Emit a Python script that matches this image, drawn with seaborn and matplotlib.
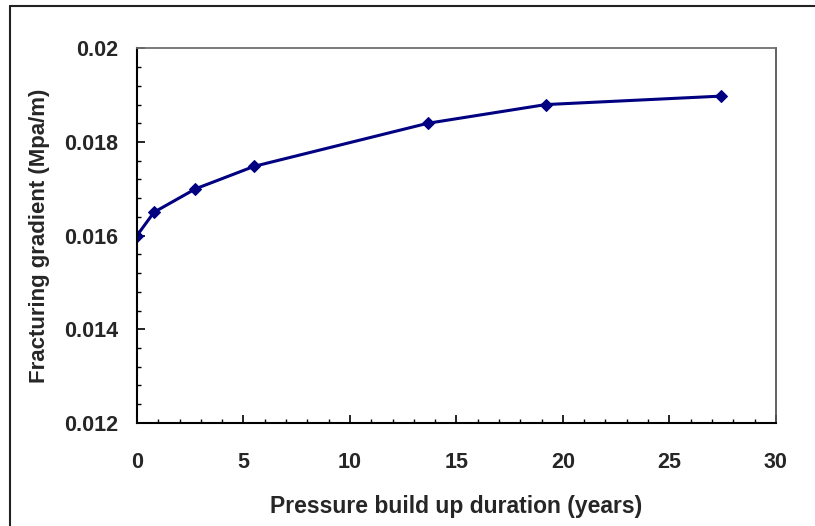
import matplotlib
matplotlib.use("Agg")
import matplotlib.pyplot as plt
import seaborn as sns
import pandas as pd
from matplotlib.lines import Line2D
from matplotlib.ticker import MultipleLocator, FuncFormatter

years = [0, 0.8, 2.75, 5.5, 13.65, 19.2, 27.4]
gradient = [0.0160, 0.01650, 0.01700, 0.01748, 0.01840, 0.01880, 0.01898]

df = pd.DataFrame({"years": years, "gradient": gradient})

sns.set_style("white")
plt.rcParams['font.family'] = ['Liberation Sans', 'DejaVu Sans']

fig = plt.figure(figsize=(8.15, 5.26), dpi=100)
ax = fig.add_axes([0.168, 0.196, 0.784, 0.712])

sns.lineplot(data=df, x="years", y="gradient", ax=ax, color="#000080",
             linewidth=2.2, marker="D", markersize=6.5, markeredgecolor="#000080",
             markerfacecolor="#000080")

ax.set_xlim(0, 30)
ax.set_ylim(0.012, 0.02)
ax.xaxis.set_major_locator(MultipleLocator(5))
ax.xaxis.set_minor_locator(MultipleLocator(1))
ax.yaxis.set_major_locator(MultipleLocator(0.002))
ax.yaxis.set_minor_locator(MultipleLocator(0.0004))

def yfmt(v, pos):
    return f"{v:.3f}".rstrip("0")
ax.yaxis.set_major_formatter(FuncFormatter(yfmt))

ax.tick_params(axis="both", which="major", direction="in", length=6, width=1.2,
               color="black", labelsize=15.5, top=False, right=False,
               bottom=True, left=True)
ax.tick_params(axis="both", which="minor", direction="in", length=3, width=1.0,
               color="black", top=False, right=False, bottom=True, left=True)
ax.tick_params(axis="x", which="major", pad=21)
ax.tick_params(axis="y", which="major", pad=13.5)
for lab in ax.get_xticklabels() + ax.get_yticklabels():
    lab.set_fontweight("bold")

ax.set_xlabel("Pressure build up duration (years)", fontsize=16.5, fontweight="bold", labelpad=15.5)
ax.set_ylabel("Fracturing gradient (Mpa/m)", fontsize=16, fontweight="bold", labelpad=10)

for side in ["left", "bottom"]:
    ax.spines[side].set_color("black")
    ax.spines[side].set_linewidth(1.5)
for side in ["top", "right"]:
    ax.spines[side].set_color("#707070")
    ax.spines[side].set_linewidth(1.3)
ax.spines["right"].set_color("#555555")

# outer frame (left and top edges)
fig.add_artist(Line2D([0.0123, 0.0123], [0.0, 0.9886], transform=fig.transFigure,
                      color="#222222", linewidth=1.5))
fig.add_artist(Line2D([0.0123, 1.0], [0.9886, 0.9886], transform=fig.transFigure,
                      color="#222222", linewidth=1.5))

fig.savefig("out.png", dpi=100)
